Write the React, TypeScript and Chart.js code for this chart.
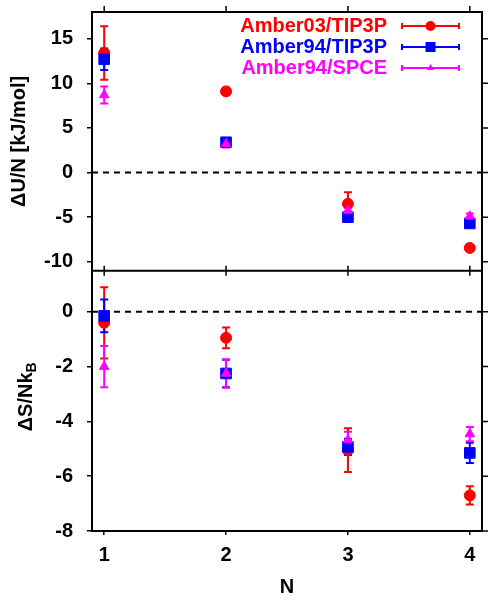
import React, { useEffect, useRef } from "react";
import { Chart, registerables } from "chart.js";

Chart.register(...registerables);

// ---------- data ----------
const N_VALUES = [1, 2, 3, 4];
const X_TICKS = [1, 2, 3, 4];
const DU_TICKS = [-10, -5, 0, 5, 10, 15];
const DS_TICKS = [-8, -6, -4, -2, 0];

const SERIES_LABELS = ["Amber03/TIP3P", "Amber94/TIP3P", "Amber94/SPCE"];
const SERIES_COLORS = ["#ff0000", "#0000ff", "#ff00ff"];
const SERIES_SHAPES = ["circle", "rect", "triangle"];

const DU_AMBER03_TIP3P = [13.4, 9.1, -3.5, -8.45];
const DU_AMBER03_TIP3P_ERR = [3.0, 0.4, 1.3, 0.3];
const DU_AMBER94_TIP3P = [12.7, 3.4, -5.0, -5.7];
const DU_AMBER94_TIP3P_ERR = [1.2, 0.4, 0.3, 0.3];
const DU_AMBER94_SPCE = [8.7, 3.2, -4.25, -4.9];
const DU_AMBER94_SPCE_ERR = [0.95, 0.4, 0.3, 0.3];

const DS_AMBER03_TIP3P = [-0.4, -0.95, -5.05, -6.7];
const DS_AMBER03_TIP3P_ERR = [1.3, 0.38, 0.8, 0.33];
const DS_AMBER94_TIP3P = [-0.15, -2.25, -4.93, -5.15];
const DS_AMBER94_TIP3P_ERR = [0.6, 0.5, 0.3, 0.37];
const DS_AMBER94_SPCE = [-2.0, -2.25, -4.68, -4.46];
const DS_AMBER94_SPCE_ERR = [0.75, 0.52, 0.3, 0.26];

const TOP_TITLE = "ΔU/N [kJ/mol]";
const BOTTOM_TITLE_MAIN = "ΔS/Nk";
const BOTTOM_TITLE_SUB = "B";
const X_TITLE = "N";

const FONT_FAMILY = '"Liberation Sans", Arial, Helvetica, sans-serif';

const POINT_RADII = [5.5, 7.5, 5.5];

function makeDataset(i: number, values: number[], errs: number[], axis: string) {
  return {
    label: SERIES_LABELS[i],
    data: N_VALUES.map((n, k) => ({ x: n, y: values[k] })),
    errs,
    yAxisID: axis,
    showLine: false,
    pointStyle: SERIES_SHAPES[i],
    pointRadius: POINT_RADII[i],
    pointHoverRadius: POINT_RADII[i],
    backgroundColor: SERIES_COLORS[i],
    borderColor: SERIES_COLORS[i],
    pointBorderWidth: 1,
    order: 2 - i,
  };
}

const decorPlugin = {
  id: "decor",
  beforeDatasetsDraw(chart: any) {
    const ctx = chart.ctx;
    const { left, right } = chart.chartArea;
    const yU = chart.scales.yU;
    const yS = chart.scales.yS;
    // zero dashed lines
    ctx.save();
    ctx.strokeStyle = "#000";
    ctx.lineWidth = 2;
    ctx.setLineDash([6, 5]);
    [yU, yS].forEach((s: any) => {
      const y = s.getPixelForValue(0);
      ctx.beginPath();
      ctx.moveTo(left, y);
      ctx.lineTo(right, y);
      ctx.stroke();
    });
    ctx.restore();
    // error bars
    ctx.save();
    ctx.lineWidth = 2;
    chart.data.datasets.forEach((ds: any, di: number) => {
      const meta = chart.getDatasetMeta(di);
      const sc = chart.scales[ds.yAxisID];
      ctx.strokeStyle = ds.borderColor;
      meta.data.forEach((pt: any, k: number) => {
        const v = ds.data[k].y;
        const e = ds.errs[k];
        const x = pt.x;
        const y1 = sc.getPixelForValue(v + e);
        const y2 = sc.getPixelForValue(v - e);
        ctx.beginPath();
        ctx.moveTo(x, y1);
        ctx.lineTo(x, y2);
        ctx.moveTo(x - 4, y1);
        ctx.lineTo(x + 4, y1);
        ctx.moveTo(x - 4, y2);
        ctx.lineTo(x + 4, y2);
        ctx.stroke();
      });
    });
    ctx.restore();
  },
  afterDraw(chart: any) {
    const ctx = chart.ctx;
    const { left, right, top, bottom } = chart.chartArea;
    const yU = chart.scales.yU;
    const yS = chart.scales.yS;
    const xs = chart.scales.x;
    const mid = yU.bottom;
    ctx.save();
    ctx.strokeStyle = "#000";
    ctx.lineWidth = 2;
    // frame: top, right, middle
    ctx.beginPath();
    ctx.moveTo(left - 1, top);
    ctx.lineTo(right + 1, top);
    ctx.moveTo(right, top - 1);
    ctx.lineTo(right, bottom + 1);
    ctx.moveTo(left, mid);
    ctx.lineTo(right, mid);
    ctx.stroke();
    // right ticks
    ctx.lineWidth = 1.5;
    ctx.beginPath();
    DU_TICKS.forEach((v) => {
      const y = yU.getPixelForValue(v);
      ctx.moveTo(right, y);
      ctx.lineTo(right + 6, y);
    });
    DS_TICKS.forEach((v) => {
      const y = yS.getPixelForValue(v);
      ctx.moveTo(right, y);
      ctx.lineTo(right + 6, y);
    });
    // top and middle ticks
    X_TICKS.forEach((v) => {
      const x = xs.getPixelForValue(v);
      ctx.moveTo(x, top - 6);
      ctx.lineTo(x, top);
      ctx.moveTo(x, mid - 5);
      ctx.lineTo(x, mid + 5);
    });
    ctx.stroke();

    // axis titles
    ctx.fillStyle = "#000";
    ctx.font = `bold 20px ${FONT_FAMILY}`;
    ctx.textAlign = "center";
    ctx.textBaseline = "middle";
    ctx.save();
    ctx.translate(19, (top + mid) / 2);
    ctx.rotate(-Math.PI / 2);
    ctx.fillText(TOP_TITLE, 0, 0);
    ctx.restore();

    ctx.save();
    ctx.font = `bold 20px ${FONT_FAMILY}`;
    const w1 = ctx.measureText(BOTTOM_TITLE_MAIN).width;
    ctx.font = `bold 14px ${FONT_FAMILY}`;
    const w2 = ctx.measureText(BOTTOM_TITLE_SUB).width;
    ctx.translate(26, (mid + bottom) / 2 - 4);
    ctx.rotate(-Math.PI / 2);
    ctx.textAlign = "left";
    ctx.font = `bold 20px ${FONT_FAMILY}`;
    const start = -(w1 + w2) / 2;
    ctx.fillText(BOTTOM_TITLE_MAIN, start, 0);
    ctx.font = `bold 14px ${FONT_FAMILY}`;
    ctx.fillText(BOTTOM_TITLE_SUB, start + w1, 6);
    ctx.restore();

    ctx.font = `bold 20px ${FONT_FAMILY}`;
    ctx.fillText(X_TITLE, (left + right) / 2, 587);

    // legend
    const legendTextRight = 387;
    const lx1 = 402;
    const lx2 = 459;
    SERIES_LABELS.forEach((label, i) => {
      const y = 26 + 21 * i;
      const c = SERIES_COLORS[i];
      ctx.fillStyle = c;
      ctx.strokeStyle = c;
      ctx.textAlign = "right";
      ctx.textBaseline = "middle";
      ctx.font = `bold 20px ${FONT_FAMILY}`;
      ctx.fillText(label, legendTextRight, y);
      ctx.lineWidth = 2;
      ctx.beginPath();
      ctx.moveTo(lx1, y);
      ctx.lineTo(lx2, y);
      ctx.moveTo(lx1, y - 3);
      ctx.lineTo(lx1, y + 3);
      ctx.moveTo(lx2, y - 3);
      ctx.lineTo(lx2, y + 3);
      ctx.stroke();
      const cx = (lx1 + lx2) / 2;
      ctx.beginPath();
      if (i === 0) {
        ctx.arc(cx, y, 5, 0, Math.PI * 2);
      } else if (i === 1) {
        ctx.rect(cx - 5, y - 5, 10, 10);
      } else {
        ctx.moveTo(cx, y - 4);
        ctx.lineTo(cx + 3.5, y + 2);
        ctx.lineTo(cx - 3.5, y + 2);
        ctx.closePath();
      }
      ctx.fill();
    });
    ctx.restore();
  },
};

function fitY(s: any) {
  s.width = 92;
  s.paddingTop = 0;
  s.paddingBottom = 0;
}

function fitX(s: any) {
  s.height = 69;
  s.paddingLeft = 0;
  s.paddingRight = 0;
}

export default function App() {
  const canvasRef = useRef<HTMLCanvasElement | null>(null);

  useEffect(() => {
    const canvas = canvasRef.current;
    if (!canvas) return;
    const tickFont = { family: FONT_FAMILY, size: 20, weight: "bold" as const };
    const gridOpts = (len: number) => ({
      display: true,
      drawOnChartArea: false,
      drawTicks: true,
      tickLength: len,
      color: "#000",
      lineWidth: 1.5,
    });
    const chart = new Chart(canvas, {
      type: "scatter",
      data: {
        datasets: [
          makeDataset(0, DU_AMBER03_TIP3P, DU_AMBER03_TIP3P_ERR, "yU"),
          makeDataset(1, DU_AMBER94_TIP3P, DU_AMBER94_TIP3P_ERR, "yU"),
          makeDataset(2, DU_AMBER94_SPCE, DU_AMBER94_SPCE_ERR, "yU"),
          makeDataset(0, DS_AMBER03_TIP3P, DS_AMBER03_TIP3P_ERR, "yS"),
          makeDataset(1, DS_AMBER94_TIP3P, DS_AMBER94_TIP3P_ERR, "yS"),
          makeDataset(2, DS_AMBER94_SPCE, DS_AMBER94_SPCE_ERR, "yS"),
        ] as any,
      },
      options: {
        responsive: false,
        animation: false,
        devicePixelRatio: 1,
        layout: { padding: { top: 12, right: 15, left: 0, bottom: 0 } },
        plugins: {
          legend: { display: false },
          tooltip: { enabled: false },
          title: { display: false },
        },
        scales: {
          x: {
            type: "linear",
            min: 0.9,
            max: 4.1,
            afterBuildTicks: (s: any) => {
              s.ticks = X_TICKS.map((v) => ({ value: v }));
            },
            afterFit: fitX,
            ticks: {
              font: tickFont,
              color: "#000",
              padding: 8,
              callback: (v: any) => String(v),
            },
            grid: gridOpts(4),
            border: { display: true, color: "#000", width: 2 },
          },
          yS: {
            type: "linear",
            position: "left",
            stack: "panels",
            stackWeight: 260.3,
            min: -8,
            max: 1.5,
            afterBuildTicks: (s: any) => {
              s.ticks = DS_TICKS.map((v) => ({ value: v }));
            },
            afterFit: fitY,
            ticks: {
              font: tickFont,
              color: "#000",
              padding: 14,
              callback: (v: any) => String(v),
            },
            grid: gridOpts(5),
            border: { display: true, color: "#000", width: 2 },
          },
          yU: {
            type: "linear",
            position: "left",
            stack: "panels",
            stackWeight: 258.7,
            min: -11,
            max: 18,
            afterBuildTicks: (s: any) => {
              s.ticks = DU_TICKS.map((v) => ({ value: v }));
            },
            afterFit: fitY,
            ticks: {
              font: tickFont,
              color: "#000",
              padding: 14,
              callback: (v: any) => String(v),
            },
            grid: gridOpts(5),
            border: { display: true, color: "#000", width: 2 },
          },
        } as any,
      },
      plugins: [decorPlugin],
    });
    return () => chart.destroy();
  }, []);

  return (
    <div style={{ position: "fixed", left: 0, top: 0, width: 497, height: 600, background: "#fff" }}>
      <canvas ref={canvasRef} width={497} height={600} style={{ width: 497, height: 600, display: "block" }} />
    </div>
  );
}
